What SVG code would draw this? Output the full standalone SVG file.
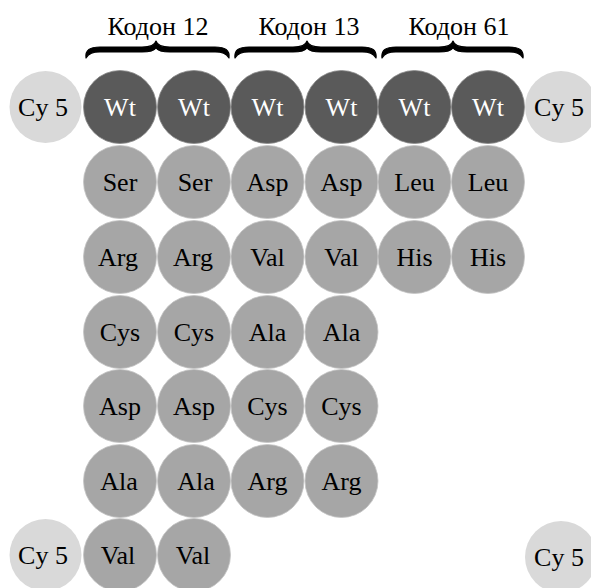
<svg xmlns="http://www.w3.org/2000/svg" width="591" height="588" viewBox="0 0 591 588">
<style>
text{font-family:'Liberation Serif','Times New Roman',serif;text-anchor:middle}
.lbl{font-size:26px}
.hd{font-size:26px;fill:#000}
.wt circle{fill:#5a5a5a;stroke:#8a8a8a;stroke-width:0.8}
.wt text{fill:#fff}
.aa circle{fill:#a6a6a6;stroke:#c4c4c4;stroke-width:0.8}
.aa text{fill:#000}
.cy circle{fill:#d9d9d9}
.cy text{fill:#000}
.brace{fill:#000;stroke:#000;stroke-width:1.2;stroke-linejoin:round}
</style>
<rect width="591" height="588" fill="#fff"/>
<g id="headers">
<text class="hd" x="158" y="35">Кодон 12</text>
<text class="hd" x="309" y="35">Кодон 13</text>
<text class="hd" x="459" y="35">Кодон 61</text>
</g>
<g id="braces">
<path class="brace" d="M86,58 C85,50 90,47 100,47 L142,47 C151,47 155,45 156,41 C157,45 161,47 170,47 L215,47 C225,47 230,50 229,58 C226,53 222,52 215,52 L170,52 C162,52 158,51 156,48 C154,51 150,52 142,52 L100,52 C93,52 89,53 86,58 Z"/>
<path class="brace" d="M235,58 C234,50 239,47 249,47 L293,47 C302,47 306,45 307,41 C308,45 312,47 321,47 L362,47 C372,47 377,50 376,58 C373,53 369,52 362,52 L321,52 C313,52 309,51 307,48 C305,51 301,52 293,52 L249,52 C242,52 238,53 235,58 Z"/>
<path class="brace" d="M382,58 C381,50 386,47 396,47 L439,47 C448,47 452,45 453,41 C454,45 458,47 467,47 L509,47 C519,47 524,50 523,58 C520,53 516,52 509,52 L467,52 C459,52 455,51 453,48 C451,51 447,52 439,52 L396,52 C389,52 385,53 382,58 Z"/>
</g>
<g id="connectors"></g>
<g id="nodes">
<g id="cy5-tl" class="cy"><circle cx="45.5" cy="107" r="36"/><text class="lbl" x="43" y="116">Cy 5</text></g>
<g id="cy5-tr" class="cy"><circle cx="561" cy="107" r="36"/><text class="lbl" x="559" y="116">Cy 5</text></g>
<g id="cy5-bl" class="cy"><circle cx="45.5" cy="555" r="36"/><text class="lbl" x="43" y="564">Cy 5</text></g>
<g id="cy5-br" class="cy"><circle cx="561" cy="557" r="36"/><text class="lbl" x="559" y="566">Cy 5</text></g>

<g id="wt-1" class="wt"><circle cx="120" cy="107" r="36.5"/><text class="lbl" x="120" y="116">Wt</text></g>
<g id="wt-2" class="wt"><circle cx="194" cy="107" r="36.5"/><text class="lbl" x="194" y="116">Wt</text></g>
<g id="wt-3" class="wt"><circle cx="267.5" cy="107" r="36.5"/><text class="lbl" x="267.5" y="116">Wt</text></g>
<g id="wt-4" class="wt"><circle cx="341.5" cy="107" r="36.5"/><text class="lbl" x="341.5" y="116">Wt</text></g>
<g id="wt-5" class="wt"><circle cx="414.5" cy="107" r="36.5"/><text class="lbl" x="414.5" y="116">Wt</text></g>
<g id="wt-6" class="wt"><circle cx="488" cy="107" r="36.5"/><text class="lbl" x="488" y="116">Wt</text></g>

<g id="ser-1" class="aa"><circle cx="120" cy="182" r="36.5"/><text class="lbl" x="120" y="191">Ser</text></g>
<g id="ser-2" class="aa"><circle cx="194" cy="182" r="36.5"/><text class="lbl" x="195" y="191">Ser</text></g>
<g id="asp-13a" class="aa"><circle cx="267.5" cy="182" r="36.5"/><text class="lbl" x="267.5" y="191">Asp</text></g>
<g id="asp-13b" class="aa"><circle cx="341.5" cy="182" r="36.5"/><text class="lbl" x="341.5" y="191">Asp</text></g>
<g id="leu-1" class="aa"><circle cx="414.5" cy="182" r="36.5"/><text class="lbl" x="414.5" y="191">Leu</text></g>
<g id="leu-2" class="aa"><circle cx="488" cy="182" r="36.5"/><text class="lbl" x="488" y="191">Leu</text></g>

<g id="arg-12a" class="aa"><circle cx="120" cy="257" r="36.5"/><text class="lbl" x="118" y="266">Arg</text></g>
<g id="arg-12b" class="aa"><circle cx="194" cy="257" r="36.5"/><text class="lbl" x="193" y="266">Arg</text></g>
<g id="val-13a" class="aa"><circle cx="267.5" cy="257" r="36.5"/><text class="lbl" x="267.5" y="266">Val</text></g>
<g id="val-13b" class="aa"><circle cx="341.5" cy="257" r="36.5"/><text class="lbl" x="341.5" y="266">Val</text></g>
<g id="his-1" class="aa"><circle cx="414.5" cy="257" r="36.5"/><text class="lbl" x="414.5" y="266">His</text></g>
<g id="his-2" class="aa"><circle cx="488" cy="257" r="36.5"/><text class="lbl" x="488" y="266">His</text></g>

<g id="cys-12a" class="aa"><circle cx="120" cy="332" r="36.5"/><text class="lbl" x="120" y="341">Cys</text></g>
<g id="cys-12b" class="aa"><circle cx="194" cy="332" r="36.5"/><text class="lbl" x="194" y="341">Cys</text></g>
<g id="ala-13a" class="aa"><circle cx="267.5" cy="332" r="36.5"/><text class="lbl" x="267.5" y="341">Ala</text></g>
<g id="ala-13b" class="aa"><circle cx="341.5" cy="332" r="36.5"/><text class="lbl" x="341.5" y="341">Ala</text></g>

<g id="asp-12a" class="aa"><circle cx="120" cy="406" r="36.5"/><text class="lbl" x="120" y="415">Asp</text></g>
<g id="asp-12b" class="aa"><circle cx="194" cy="406" r="36.5"/><text class="lbl" x="194" y="415">Asp</text></g>
<g id="cys-13a" class="aa"><circle cx="267.5" cy="406" r="36.5"/><text class="lbl" x="267.5" y="415">Cys</text></g>
<g id="cys-13b" class="aa"><circle cx="341.5" cy="406" r="36.5"/><text class="lbl" x="341.5" y="415">Cys</text></g>

<g id="ala-12a" class="aa"><circle cx="120" cy="481" r="36.5"/><text class="lbl" x="119" y="490">Ala</text></g>
<g id="ala-12b" class="aa"><circle cx="194" cy="481" r="36.5"/><text class="lbl" x="196" y="490">Ala</text></g>
<g id="arg-13a" class="aa"><circle cx="267.5" cy="481" r="36.5"/><text class="lbl" x="267.5" y="490">Arg</text></g>
<g id="arg-13b" class="aa"><circle cx="341.5" cy="481" r="36.5"/><text class="lbl" x="341.5" y="490">Arg</text></g>

<g id="val-12a" class="aa"><circle cx="120" cy="555" r="36.5"/><text class="lbl" x="118" y="564">Val</text></g>
<g id="val-12b" class="aa"><circle cx="194" cy="555" r="36.5"/><text class="lbl" x="193" y="564">Val</text></g>
</g>
</svg>
